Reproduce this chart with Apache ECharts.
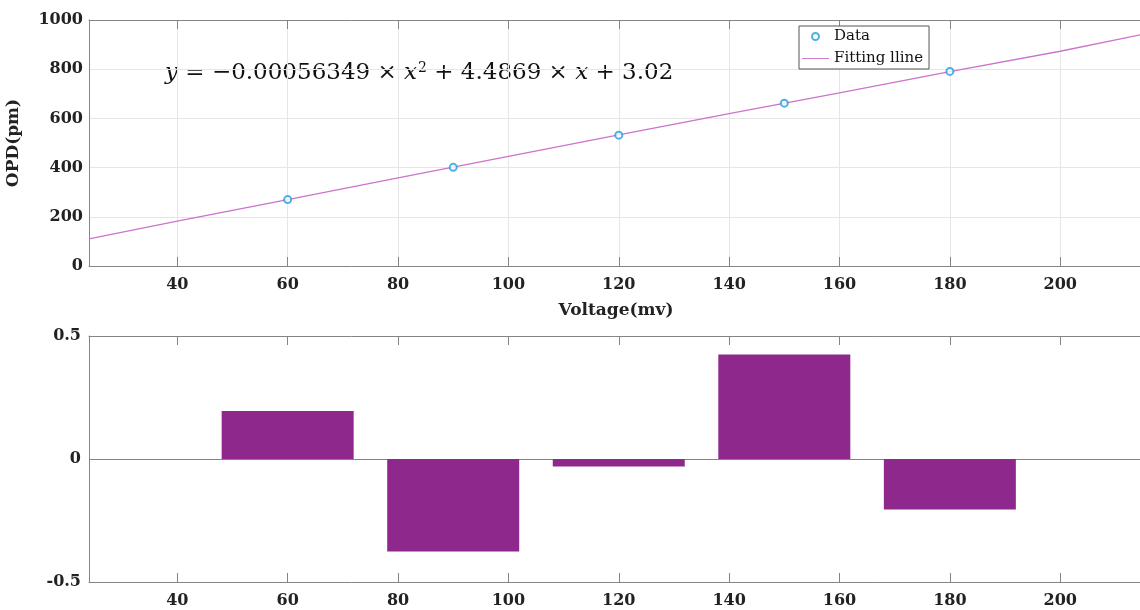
<!DOCTYPE html>
<html>
<head>
<meta charset="utf-8">
<script src="https://cdn.jsdelivr.net/npm/echarts@6/dist/echarts.min.js"></script>
<style>html,body{margin:0;background:#fff}#main{width:1140px;height:610px}</style>
</head>
<body>
<div id="main"></div>
<script>
var voltage = [60, 90, 120, 150, 180];
var opd = [270, 401, 532, 662, 791];
var fitX = [24, 40, 60, 80, 100, 120, 140, 160, 180, 200, 215];
var fitY = [110, 182, 270, 358, 446, 533, 619, 704, 790, 873, 942];
var residual = [0.195, -0.376, -0.03, 0.425, -0.205];
var xTicks = [40, 60, 80, 100, 120, 140, 160, 180, 200];

var dom = document.getElementById('main');
var myChart = echarts.init(dom);

var axisGray = '#858585';
var labelFont = { color: '#222', fontFamily: 'DejaVu Serif', fontWeight: 'bold', fontSize: 16 };

function pairs(xs, ys) {
	var res = [];
	for (var i = 0; i < xs.length; i++) res.push([xs[i], ys[i]]);
	return res;
}

function xAxisFor(grid, pos, showLabel, showSplit) {
	return {
		gridIndex: grid, type: 'value', min: 24, max: 215, position: pos,
		axisLine: { show: true, onZero: false, lineStyle: { color: axisGray } },
		axisTick: { show: true, inside: true, length: 9, customValues: xTicks, lineStyle: { color: axisGray } },
		axisLabel: Object.assign({ show: showLabel, customValues: xTicks, margin: 11 }, labelFont),
		splitLine: { show: showSplit, lineStyle: { color: '#e6e6e6' } }
	};
}

var xTopMain = xAxisFor(0, 'bottom', true, true);
xTopMain.name = 'Voltage(mv)';
xTopMain.nameLocation = 'middle';
xTopMain.nameGap = 36;
xTopMain.nameTextStyle = { color: '#222', fontFamily: 'DejaVu Serif', fontWeight: 'bold', fontSize: 17 };

option = {
	backgroundColor: '#fff',
	animation: false,
	grid: [
		{ left: 89, top: 20, width: 1054, height: 246, outerBoundsMode: 'none' },
		{ left: 89, top: 336, width: 1054, height: 246, outerBoundsMode: 'none' }
	],
	legend: {
		left: 799, top: 26, orient: 'vertical',
		data: [
			{ name: 'Data' },
			{ name: 'Fitting lline', icon: 'path://M0,0H40V1.4H0Z' }
		],
		backgroundColor: '#fff',
		borderColor: '#555', borderWidth: 1,
		padding: [3, 6, 3, 3],
		itemWidth: 27, itemHeight: 7, itemGap: 7,
		textStyle: { color: '#111', fontFamily: 'DejaVu Serif', fontSize: 15 }
	},
	xAxis: [
		xTopMain,
		xAxisFor(0, 'top', false, false),
		xAxisFor(1, 'bottom', true, false),
		xAxisFor(1, 'top', false, false)
	],
	yAxis: [
		{
			gridIndex: 0, type: 'value', min: 0, max: 1000, interval: 200,
			name: 'OPD(pm)', nameLocation: 'middle', nameGap: 67,
			nameTextStyle: { color: '#222', fontFamily: 'DejaVu Serif', fontWeight: 'bold', fontSize: 17 },
			axisLine: { show: true, lineStyle: { color: axisGray } },
			axisTick: { show: false },
			axisLabel: Object.assign({ margin: 6, formatter: function (v) { return String(v); } }, labelFont),
			splitLine: { show: true, lineStyle: { color: '#e6e6e6' } }
		},
		{
			gridIndex: 1, type: 'value', min: -0.5, max: 0.5, interval: 0.5,
			axisLine: { show: true, lineStyle: { color: axisGray } },
			axisTick: { show: false },
			axisLabel: Object.assign({ margin: 8 }, labelFont),
			splitLine: { show: true, lineStyle: { color: ['rgba(0,0,0,0)', axisGray, 'rgba(0,0,0,0)'] } }
		}
	],
	graphic: [{
		type: 'text', left: 165, top: 61,
		style: {
			text: '{i|y} = −0.00056349 × {i|x}{s|2} + 4.4869 × {i|x} + 3.02',
			fill: '#111',
			font: '23px "DejaVu Serif"',
			rich: {
				i: { fontFamily: 'DejaVu Serif', fontStyle: 'italic', fontSize: 23 },
				s: { fontFamily: 'DejaVu Serif', fontSize: 14, verticalAlign: 'top', padding: [0, 0, 10, 1] }
			}
		}
	}],
	series: [
		{
			name: 'Fitting lline', type: 'line', xAxisIndex: 0, yAxisIndex: 0,
			data: pairs(fitX, fitY), symbol: 'none', z: 2,
			lineStyle: { color: '#cc74cc', width: 1.3 },
			itemStyle: { color: '#cc74cc' }
		},
		{
			name: 'Data', type: 'scatter', xAxisIndex: 0, yAxisIndex: 0,
			data: pairs(voltage, opd), symbol: 'emptyCircle', symbolSize: 7, z: 3,
			itemStyle: { color: '#1e9fdc', borderColor: '#1e9fdc', borderWidth: 1.3 }
		},
		{
			name: 'Residual', type: 'bar', xAxisIndex: 2, yAxisIndex: 1,
			data: pairs(voltage, residual), barWidth: 132,
			itemStyle: { color: '#8e288c' }
		}
	]
};
myChart.setOption(option, true);
</script>
</body>
</html>
